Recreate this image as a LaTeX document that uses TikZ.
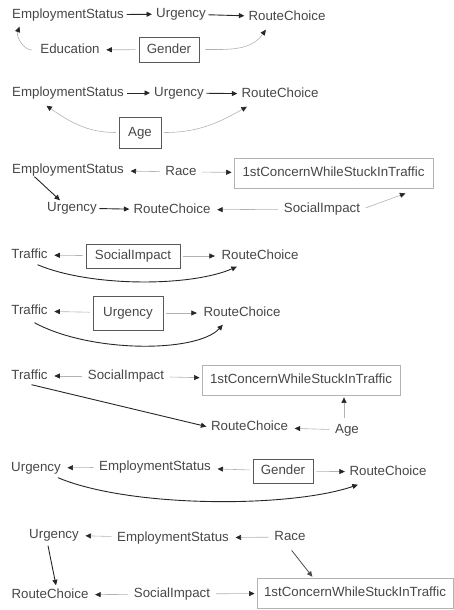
\documentclass[tikz,border=0pt]{standalone}
\usepackage{fontspec}
\setmainfont{Liberation Sans}
\usetikzlibrary{arrows.meta}
\begin{document}
\begin{tikzpicture}[x=1pt,y=1pt,
  lbl/.style={font=\fontsize{13.3}{15}\selectfont, text=black!72, inner sep=2.5pt, text height=9.5pt, text depth=2.5pt},
  bx/.style={lbl, draw=black!65, line width=0.9pt},
  cbx/.style={lbl, draw=black!30, line width=0.8pt},
  ca/.style={draw=black!85, line width=0.9pt, -{Triangle[length=5.5pt,width=5pt]}, shorten >=1.5pt},
  ga/.style={draw=black!30, line width=0.6pt, -{Triangle[length=5.5pt,width=5pt,color=black!85]}, shorten >=4pt, shorten <=3pt},
  da/.style={draw=black!70, line width=0.8pt, -{Triangle[length=5.5pt,width=5pt]}}]
\useasboundingbox (0,0) rectangle (454,-610);
% ---------- row 1
\node[lbl] (es1) at (68,-15) {EmploymentStatus};
\node[lbl] (ur1) at (181,-14) {Urgency};
\node[lbl] (rc1) at (287,-17) {RouteChoice};
\node[lbl] (ed1) at (70,-50) {Education};
\node[bx, minimum width=60pt, minimum height=25pt] (ge1) at (169,-49.5) {Gender};
\draw[ca] (es1) -- (ur1);
\draw[ca] (ur1) -- (rc1);
\draw[ga] (ge1) -- (ed1);
\draw[ga, shorten >=0pt] ([xshift=-3pt]ed1.west) to[out=180,in=250] ([xshift=10pt,yshift=-3pt]es1.south west);
\draw[ga, shorten >=0pt] ([xshift=3pt]ge1.east) to[out=0,in=235] ([xshift=20pt,yshift=-4pt]rc1.south west);
% ---------- row 2
\node[lbl] (es2) at (68,-93) {EmploymentStatus};
\node[lbl] (ur2) at (179,-93) {Urgency};
\node[lbl] (rc2) at (280,-94) {RouteChoice};
\node[bx, minimum width=42pt, minimum height=31pt] (ag2) at (140,-132.5) {Age};
\draw[ca] (es2) -- (ur2);
\draw[ca] (ur2) -- (rc2);
\draw[ga, shorten >=0pt] (ag2.west) to[out=180,in=-35] ([xshift=37pt,yshift=-4pt]es2.south west);
\draw[ga, shorten >=0pt] (ag2.east) to[out=0,in=210] ([xshift=8pt,yshift=-4pt]rc2.south west);
% ---------- row 3
\node[lbl] (es3) at (68,-170) {EmploymentStatus};
\node[lbl] (ra3) at (181,-172) {Race};
\node[cbx, minimum width=199pt, minimum height=30pt] (cc3) at (333.5,-173) {1stConcernWhileStuckInTraffic};
\node[lbl] (ur3) at (72,-208) {Urgency};
\node[lbl] (rc3) at (172,-210) {RouteChoice};
\node[lbl] (si3) at (322,-209) {SocialImpact};
\draw[ga] (ra3) -- (es3);
\draw[ga, shorten >=2pt] (ra3) -- (cc3);
\draw[ca, shorten >=0pt] ([xshift=25pt,yshift=2pt]es3.south west) -- ([xshift=-12pt,yshift=-1pt]ur3.north);
\draw[ca] (ur3) -- (rc3);
\draw[ga] (si3) -- (rc3);
\draw[ga, shorten >=0pt] (si3.east) -- ([xshift=-28pt,yshift=-5pt]cc3.south east);
% ---------- row 4
\node[lbl] (tr4) at (29.5,-255) {Traffic};
\node[bx, minimum width=94pt, minimum height=24pt] (si4) at (133,-256) {SocialImpact};
\node[lbl] (rc4) at (260,-256) {RouteChoice};
\draw[ga] (si4) -- (tr4);
\draw[ga] (si4) -- (rc4);
\draw[ca, shorten >=0pt] ([xshift=8pt,yshift=-1pt]tr4.south) .. controls (90,-287) and (190,-287) .. ([xshift=18pt,yshift=-2pt]rc4.south west);
% ---------- row 5
\node[lbl] (tr5) at (29.5,-311) {Traffic};
\node[bx, minimum width=70pt, minimum height=34pt] (ur5) at (128,-313) {Urgency};
\node[lbl] (rc5) at (242,-313) {RouteChoice};
\draw[ga] (ur5) -- (tr5);
\draw[ga] (ur5) -- (rc5);
\draw[ca, shorten >=0pt] ([xshift=5pt,yshift=-3pt]tr5.south) .. controls (90,-353) and (197,-353) .. ([xshift=22pt,yshift=-3pt]rc5.south west);
% ---------- row 6
\node[lbl] (tr6) at (29.5,-376) {Traffic};
\node[lbl] (si6) at (126,-376) {SocialImpact};
\node[cbx, minimum width=198pt, minimum height=30pt] (cc6) at (301,-380) {1stConcernWhileStuckInTraffic};
\node[lbl] (rc6) at (249.5,-427) {RouteChoice};
\node[lbl] (ag6) at (347,-430) {Age};
\draw[ga] (si6) -- (tr6);
\draw[ga, shorten >=2pt] (si6) -- (cc6);
\draw[ca, shorten >=2pt] ([xshift=2pt]tr6.south) -- (rc6.west);
\draw[ga] (ag6) -- (rc6);
\draw[ga, shorten >=2pt] ([xshift=-3pt]ag6.north) -- ([xshift=-3pt]ag6.north |- cc6.south);
% ---------- row 7
\node[lbl] (ur7) at (36,-468) {Urgency};
\node[lbl] (es7) at (155,-467) {EmploymentStatus};
\node[bx, minimum width=60pt, minimum height=24pt] (ge7) at (283,-471) {Gender};
\node[lbl] (rc7) at (388,-472) {RouteChoice};
\draw[ga] (es7) -- (ur7);
\draw[ga] (ge7) -- (es7);
\draw[ga, shorten >=2pt] (ge7) -- (rc7);
\draw[ca, shorten >=0pt] ([xshift=22pt,yshift=-1pt]ur7.south) .. controls (130,-508) and (290,-508) .. ([xshift=11pt,yshift=-4pt]rc7.south west);
% ---------- row 8
\node[lbl] (ur8) at (54,-535) {Urgency};
\node[lbl] (es8) at (173,-538) {EmploymentStatus};
\node[lbl] (ra8) at (290,-537) {Race};
\node[lbl] (rc8) at (50,-595) {RouteChoice};
\node[lbl] (si8) at (172,-594) {SocialImpact};
\node[cbx, minimum width=196pt, minimum height=30pt] (cc8) at (355,-593) {1stConcernWhileStuckInTraffic};
\draw[ga] (es8) -- (ur8);
\draw[ga] (ra8) -- (es8);
\draw[ca, shorten >=0pt] ([xshift=-6pt,yshift=-2pt]ur8.south) -- ([xshift=6pt,yshift=1pt]rc8.north);
\draw[da, shorten <=6pt, shorten >=1pt] ([xshift=-2pt]ra8.south) -- ([xshift=-42pt]cc8.north);
\draw[ga] (si8) -- (rc8);
\draw[ga, shorten >=2pt] (si8) -- (cc8);
\end{tikzpicture}
\end{document}
